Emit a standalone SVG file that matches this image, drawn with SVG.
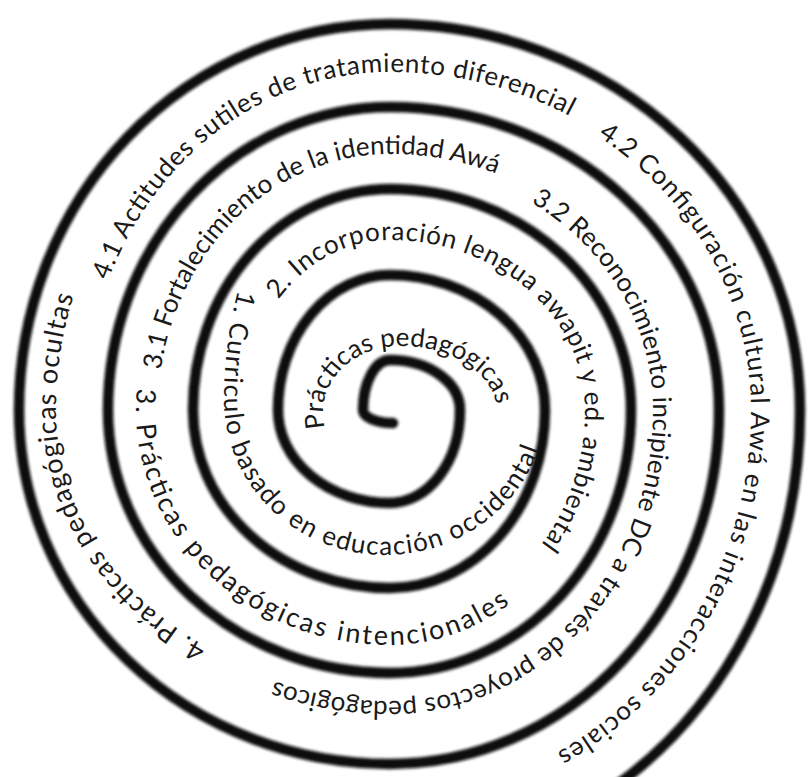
<svg xmlns="http://www.w3.org/2000/svg" width="808" height="777" viewBox="0 0 808 777">
<style>
.arm{fill:none;stroke:#111;stroke-width:10.5;stroke-linecap:round;filter:url(#soft)}
.lbl{font-family:Lato,"Open Sans","Liberation Sans",sans-serif;font-size:26px;fill:#1a1a1a}
</style>
<defs>
<filter id="soft" x="-5%" y="-5%" width="110%" height="110%"><feGaussianBlur stdDeviation="1.4"/></filter>
<path id="pA" d="M 325 428 A 77 66 0 0 1 323 412 A 77 66 0 0 1 400 346 A 97 66 0 0 1 497 412"/>
<path id="pB" d="M 238 290 A 439 439 0 0 0 224 400 A 161 155 0 0 0 385 555 A 162 155 0 0 0 540.7 442.8"/>
<path id="pC" d="M 278.3 299.6 A 147 170 0 0 1 390 240 A 195 170 0 0 1 585 410 A 195 213 0 0 1 527.9 560.6"/>
<path id="pD" d="M 136.8 388.3 A 254 278 0 0 0 136 410 A 254 235 0 0 0 390 645 A 212 235 0 0 0 514.6 600.1"/>
<path id="pE" d="M 160.9 370 A 232 256 0 0 1 390 154 A 276 256 0 0 1 515.3 181.9"/>
<path id="pF" d="M 531 202.4 A 263 246 0 0 1 653 410 A 263 291 0 0 1 390 701 A 317 291 0 0 1 255 673.4"/>
<path id="pG" d="M 206.6 646.6 A 334 283 0 0 1 56 410 A 334 355 0 0 1 81.4 274"/>
<path id="pH" d="M 108.2 280.6 A 305 338 0 0 1 390 72 A 364 338 0 0 1 585.1 124.7"/>
<path id="pI" d="M 597.6 136 A 361 335 0 0 1 751 410 A 361 386 0 0 1 543.8 759.3"/>
</defs>
<rect width="808" height="777" fill="#fff"/>
<g id="spiral">
<path class="arm" d="M 393 423 A 30 13 0 0 1 363 410 A 27 50 0 0 1 390 360 A 70 50 0 0 1 460 410 A 70 93 0 0 1 390 503 A 112 93 0 0 1 278 410 A 112 135 0 0 1 390 275 A 155 135 0 0 1 545 410 A 155 178 0 0 1 390 588 A 197 178 0 0 1 193 410 A 197 221 0 0 1 390 189 A 241 221 0 0 1 631 410 A 241 263 0 0 1 390 673 A 282 263 0 0 1 108 410 A 282 303 0 0 1 390 107 A 329 303 0 0 1 719 410 A 329 354 0 0 1 390 764 A 371 354 0 0 1 19 410 A 371 386 0 0 1 390 24 A 410 386 0 0 1 800 410 A 410 450 0 0 1 610 790"/>
</g>
<g id="t-practicas"><text class="lbl"><textPath href="#pA" textLength="250" lengthAdjust="spacing">Prácticas pedagógicas</textPath></text></g>
<g id="t-1"><text class="lbl"><textPath href="#pB" textLength="558" lengthAdjust="spacing">1. Curriculo basado en educación occidental</textPath></text></g>
<g id="t-2"><text class="lbl"><textPath href="#pC" textLength="562" lengthAdjust="spacing">2. Incorporación lengua awapit y ed. ambiental</textPath></text></g>
<g id="t-3"><text class="lbl" style="font-size:27px"><textPath href="#pD" textLength="535" lengthAdjust="spacing">3. Prácticas pedagógicas intencionales</textPath></text></g>
<g id="t-31"><text class="lbl"><textPath href="#pE" textLength="452" lengthAdjust="spacing">3.1 Fortalecimiento de la identidad Awá</textPath></text></g>
<g id="t-32"><text class="lbl"><textPath href="#pF" textLength="805" lengthAdjust="spacing">3.2 Reconocimiento incipiente DC a través de proyectos pedagógicos</textPath></text></g>
<g id="t-4"><text class="lbl" style="font-size:27px"><textPath href="#pG" textLength="410" lengthAdjust="spacing">4. Prácticas pedagógicas ocultas</textPath></text></g>
<g id="t-41"><text class="lbl"><textPath href="#pH" textLength="560" lengthAdjust="spacing">4.1 Actitudes sutiles de tratamiento diferencial</textPath></text></g>
<g id="t-42"><text class="lbl"><textPath href="#pI" textLength="740" lengthAdjust="spacing">4.2 Configuración cultural Awá en las interacciones sociales</textPath></text></g>
</svg>
